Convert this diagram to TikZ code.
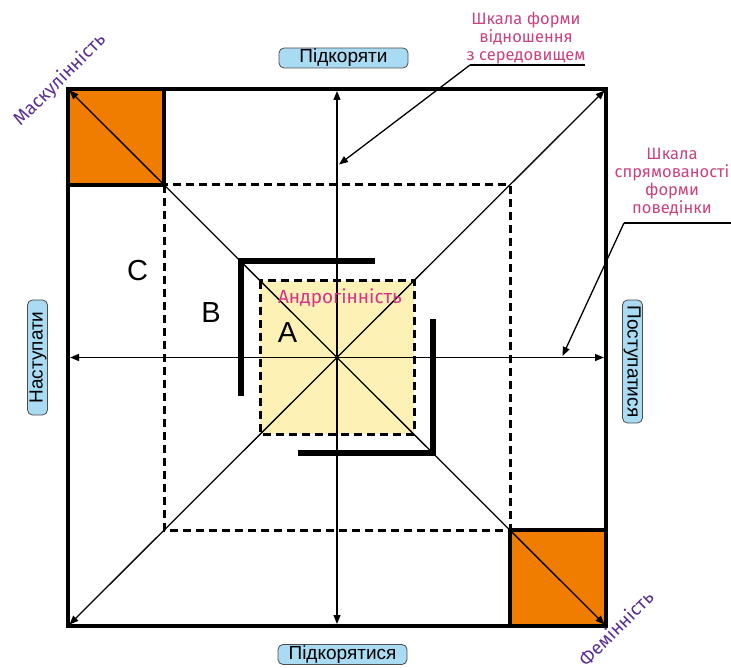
\documentclass[tikz,border=0pt]{standalone}
\usepackage{fontspec}
\setmainfont{Liberation Sans}
\newfontfamily\labfont{Fira Sans}
\usetikzlibrary{arrows.meta}
\definecolor{orng}{HTML}{F07D00}
\definecolor{ylw}{HTML}{FEF1B5}
\definecolor{lblue}{HTML}{A9DBF2}
\definecolor{purp}{HTML}{5A2D91}
\definecolor{magn}{HTML}{D6338A}
\definecolor{pinkt}{HTML}{C9417D}
\begin{document}
\begin{tikzpicture}[x=1pt,y=-1pt,
  frameln/.style={line width=4pt},
  thinln/.style={line width=1.3pt},
  dbl/.style={thinln,{Triangle[length=9pt,width=7pt]}-{Triangle[length=9pt,width=7pt]},shorten >=2pt,shorten <=2pt},
  onearrow/.style={thinln,-{Triangle[length=9pt,width=7pt]}},
  dashbox/.style={line width=3pt, dash pattern=on 8pt off 5pt},
  bracketln/.style={line width=6pt, line join=miter},
  pill/.style={draw=black!70, line width=0.8pt, fill=lblue, rounded corners=5pt, inner sep=1pt,
    font=\fontsize{19}{19}\selectfont, minimum height=20pt, text height=14pt, text depth=4pt},
  letter/.style={font=\fontsize{29}{29}\selectfont},
  pinklabel/.style={text=pinkt, align=center, font=\labfont\fontsize{16.5}{18}\selectfont},
  gender/.style={text=purp, font=\labfont\fontsize{18.5}{18.5}\selectfont, rotate=45},
]
\useasboundingbox (0,0) rectangle (731,668);
% key points
\coordinate (TL) at (68,89);
\coordinate (TR) at (606,89);
\coordinate (BL) at (68,626);
\coordinate (BR) at (606,626);
\coordinate (T) at (337,89);
\coordinate (B) at (337,626);
\coordinate (L) at (68,357.5);
\coordinate (R) at (606,357.5);
\coordinate (D1) at (164,185);
\coordinate (D2) at (510,530);
\coordinate (Y1) at (260,281);
\coordinate (Y2) at (414,434);
% fills
\fill[orng] (TL) rectangle (D1);
\fill[orng] (D2) rectangle (BR);
\fill[ylw] (Y1) rectangle (Y2);
% axes and diagonals
\draw[dbl] (TL) -- (BR);
\draw[dbl] (TR) -- (BL);
\draw[dbl] (T) -- (B);
\draw[dbl] (L) -- (R);
% dashed squares
\draw[dashbox] (D1) rectangle (D2);
\draw[dashbox] (Y1) rectangle (Y2);
% frame and orange borders
\draw[frameln] (TL) rectangle (BR);
\draw[frameln] (TL) rectangle (D1);
\draw[frameln] (D2) rectangle (BR);
% brackets
\coordinate (Ba1) at (240.5,396);
\coordinate (Ba2) at (240.5,261.5);
\coordinate (Ba3) at (375,261.5);
\draw[bracketln] (Ba1) -- (Ba2) -- (Ba3);
\coordinate (Bb1) at (432.5,319);
\coordinate (Bb2) at (432.5,452.5);
\coordinate (Bb3) at (298,452.5);
\draw[bracketln] (Bb1) -- (Bb2) -- (Bb3);
% pills
\node[pill, minimum width=129pt] (pT) at (343.5,58) {Підкоряти};
\node[pill, minimum width=129pt] (pB) at (342.5,654.5) {Підкорятися};
\node[pill, rotate=90, minimum width=115pt] (pL) at (37.5,357.5) {Наступати};
\node[pill, rotate=-90, minimum width=123pt] (pR) at (632.5,361.5) {Поступатися};
% letters
\node[letter] (lC) at (137.5,271) {C};
\node[letter] (lB) at (211,312.5) {B};
\node[letter] (lA) at (287.5,332.5) {A};
\node[text=magn, font=\labfont\fontsize{19}{19}\selectfont] (andr) at (340,298) {Андрогінність};
% gender labels
\node[gender] (mask) at (60,80) {Маскулінність};
\node[gender] (fem) at (616,628) {Фемінність};
% leader labels
\node[pinklabel] (ld1) at (526,38) {Шкала форми\\відношення\\з середовищем};
\coordinate (u1a) at (470,65);
\coordinate (u1b) at (585,65);
\coordinate (t1) at (339,164.5);
\draw[thinln] (u1b) -- (u1a);
\draw[onearrow] (u1a) -- (t1);
\node[pinklabel] (ld2) at (672,182) {Шкала\\спрямованості\\форми\\поведінки};
\coordinate (u2a) at (624,223);
\coordinate (u2b) at (731,223);
\coordinate (t2) at (562.5,356);
\draw[thinln] (u2b) -- (u2a);
\draw[onearrow] (u2a) -- (t2);
\end{tikzpicture}
\end{document}
